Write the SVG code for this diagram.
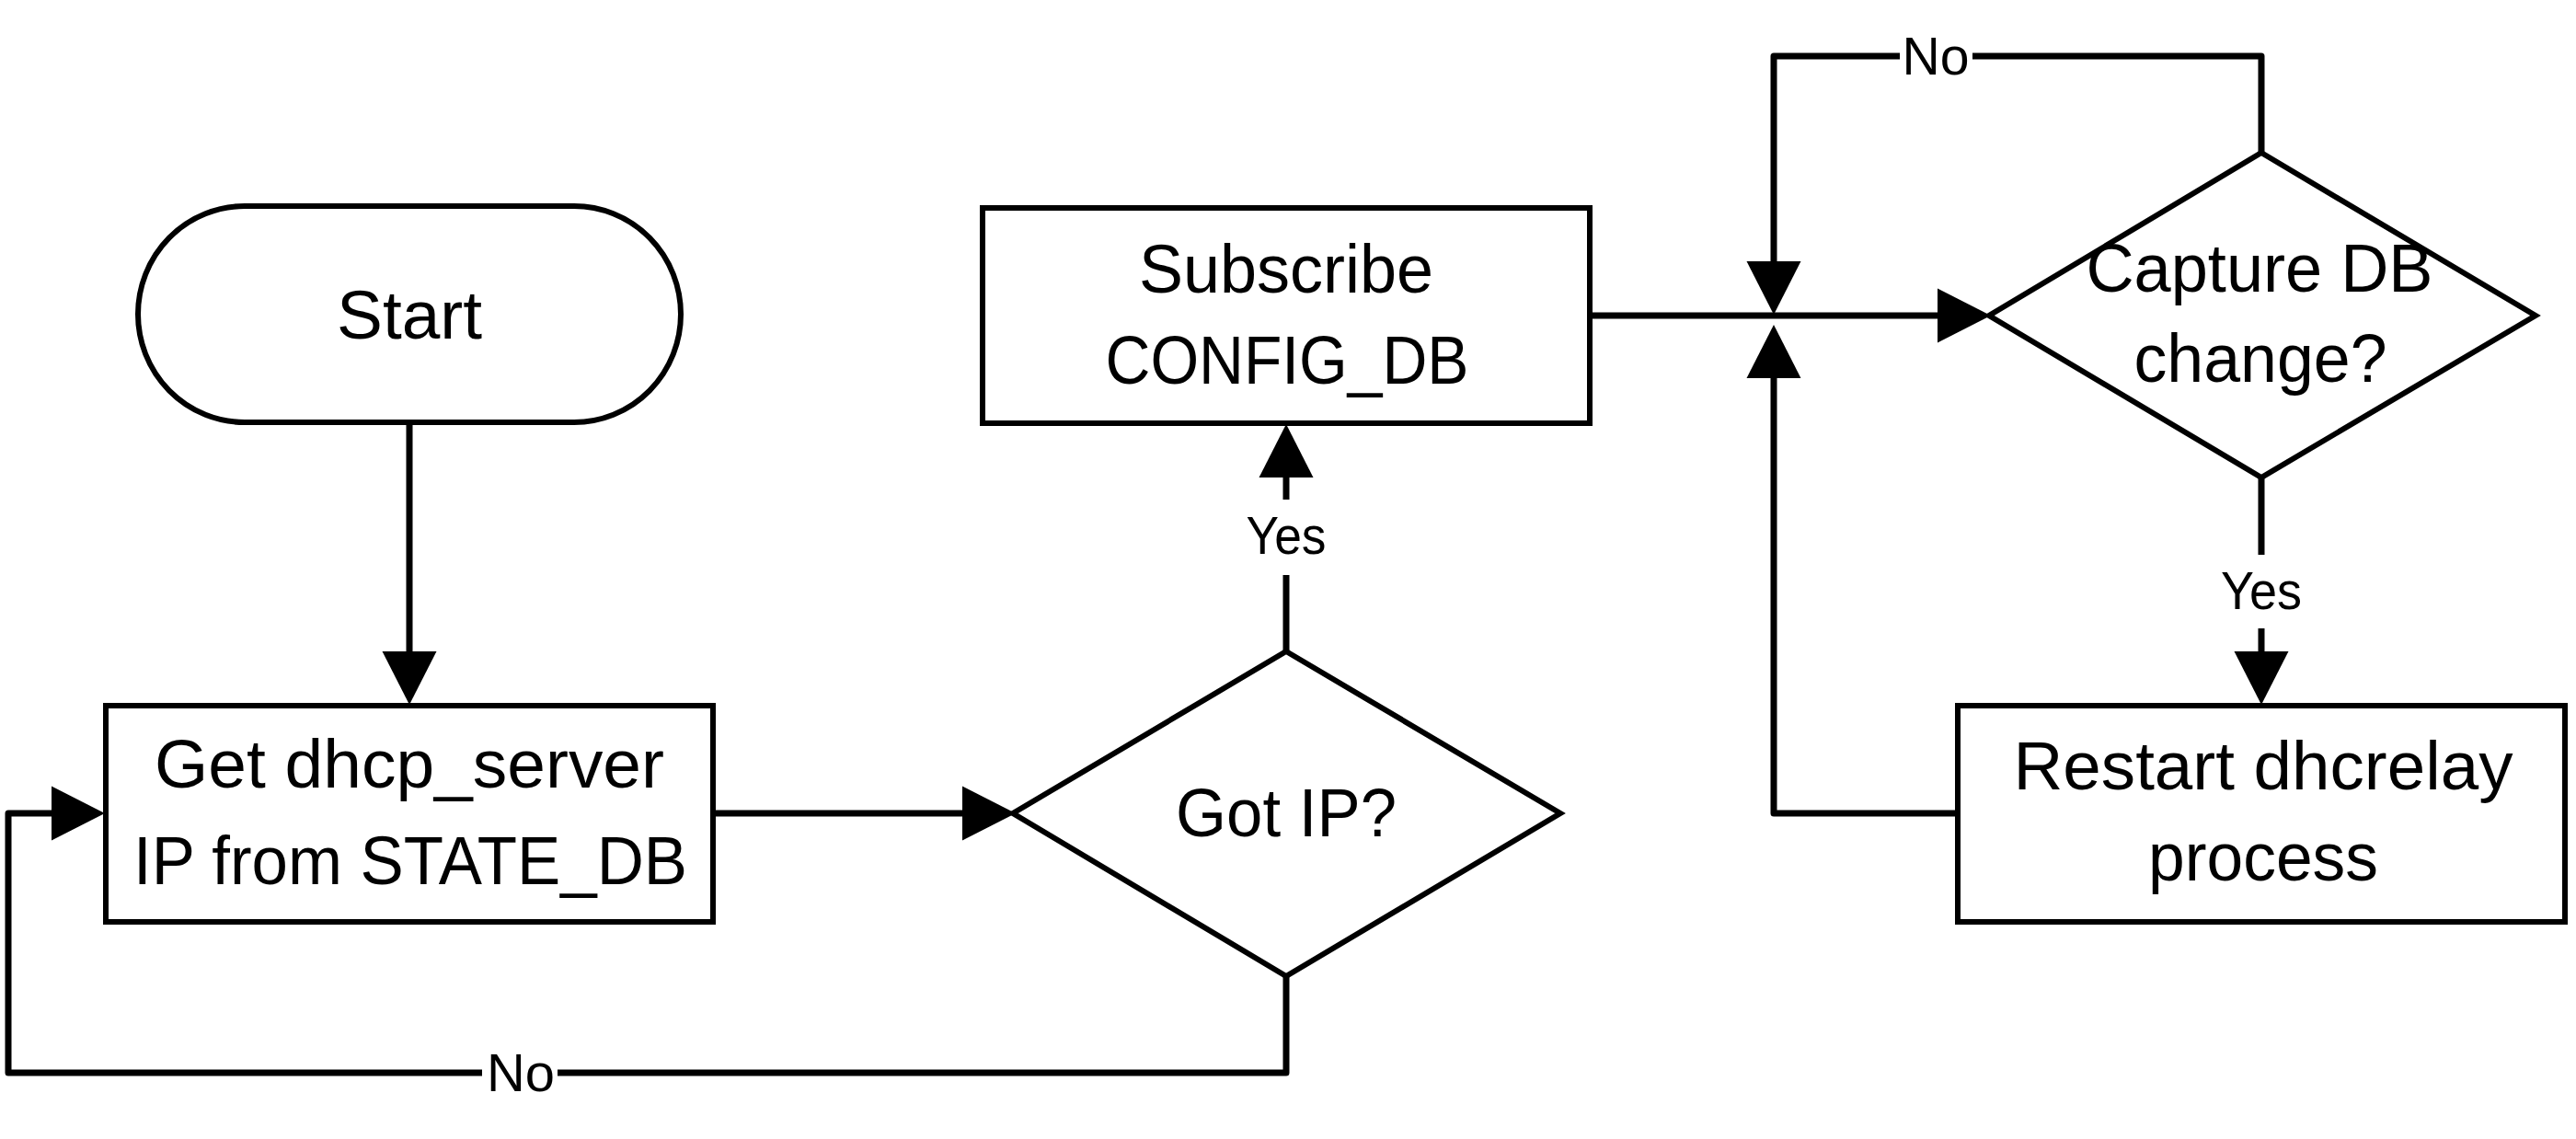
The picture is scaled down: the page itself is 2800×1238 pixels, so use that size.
<svg xmlns="http://www.w3.org/2000/svg" width="2800" height="1238" viewBox="0 0 2800 1238">
<style>
.node{fill:#fff;stroke:#000;stroke-width:6}
.t{font-family:"Liberation Sans",Arial,sans-serif;font-size:74px;fill:#000;text-anchor:middle}
.lbl{font-family:"Liberation Sans",Arial,sans-serif;font-size:57px;fill:#000;text-anchor:middle}
.c{fill:none;stroke:#000;stroke-width:7;stroke-linejoin:round}
</style>
<defs>
<marker id="ah" markerUnits="userSpaceOnUse" markerWidth="60" markerHeight="60" viewBox="0 -29 57 58" refX="0" refY="0" orient="auto">
<path d="M0,-28.5 L56,0 L0,28.5 z" fill="#000"/>
</marker>
</defs>
<rect width="2800" height="1238" fill="#fff"/>
<g id="connectors">
<path class="c" d="M445,461 V708" marker-end="url(#ah)"/>
<path class="c" d="M778,884 H1046" marker-end="url(#ah)"/>
<path class="c" d="M1398,708 V625 M1398,543 V519" marker-end="url(#ah)"/>
<path class="c" d="M1398,1061 V1166 H606 M524,1166 H9 V884 H56" marker-end="url(#ah)"/>
<path class="c" d="M1731,343 H2106" marker-end="url(#ah)"/>
<path class="c" d="M2458,166 V61 H2144 M2065,61 H1928 V284" marker-end="url(#ah)"/>
<path class="c" d="M2458,519 V603 M2458,683 V708" marker-end="url(#ah)"/>
<path class="c" d="M2125,884 H1928 V411" marker-end="url(#ah)"/>
<text class="lbl" x="1398" y="602" textLength="87" lengthAdjust="spacingAndGlyphs">Yes</text>
<text class="lbl" x="566" y="1186" textLength="74" lengthAdjust="spacingAndGlyphs">No</text>
<text class="lbl" x="2104" y="81" textLength="73" lengthAdjust="spacingAndGlyphs">No</text>
<text class="lbl" x="2458" y="662" textLength="88" lengthAdjust="spacingAndGlyphs">Yes</text>
</g>
<g id="start">
<rect class="node" x="150" y="224" width="590" height="235" rx="116" ry="117.5"/>
<text class="t" x="445" y="368" textLength="158" lengthAdjust="spacingAndGlyphs">Start</text>
</g>
<g id="get_ip">
<rect class="node" x="115" y="767" width="660" height="235"/>
<text class="t" x="445" y="856" textLength="554" lengthAdjust="spacingAndGlyphs">Get dhcp_server</text>
<text class="t" x="446" y="961" textLength="602" lengthAdjust="spacingAndGlyphs">IP from STATE_DB</text>
</g>
<g id="got_ip">
<polygon class="node" points="1398,708 1696,884 1398,1061 1101,884"/>
<text class="t" x="1398" y="909" textLength="240" lengthAdjust="spacingAndGlyphs">Got IP?</text>
</g>
<g id="subscribe">
<rect class="node" x="1068" y="226" width="660" height="234"/>
<text class="t" x="1398" y="318" textLength="320" lengthAdjust="spacingAndGlyphs">Subscribe</text>
<text class="t" x="1399" y="417" textLength="395" lengthAdjust="spacingAndGlyphs">CONFIG_DB</text>
</g>
<g id="capture">
<polygon class="node" points="2458,166 2756,343 2458,519 2162,343"/>
<text class="t" x="2456" y="317" textLength="377" lengthAdjust="spacingAndGlyphs">Capture DB</text>
<text class="t" x="2457" y="415" textLength="275" lengthAdjust="spacingAndGlyphs">change?</text>
</g>
<g id="restart">
<rect class="node" x="2128" y="767" width="660" height="235"/>
<text class="t" x="2460" y="858" textLength="543" lengthAdjust="spacingAndGlyphs">Restart dhcrelay</text>
<text class="t" x="2460" y="957" textLength="250" lengthAdjust="spacingAndGlyphs">process</text>
</g>
</svg>
